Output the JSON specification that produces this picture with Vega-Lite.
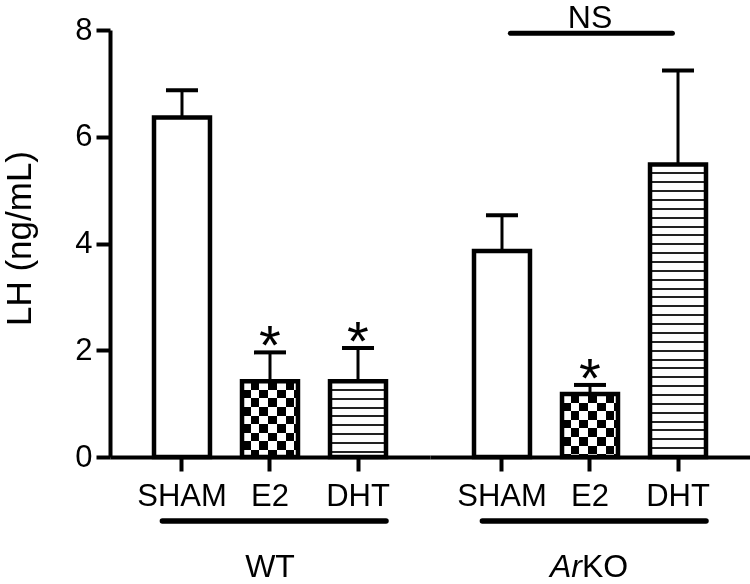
{
  "$schema": "https://vega.github.io/schema/vega-lite/v6.json",
  "autosize": {"type": "pad"},
  "padding": {"left": 2, "top": 2, "right": 2, "bottom": 0},
  "spacing": 0,
  "bounds": "flush",
  "background": "white",
  "config": {
    "view": {"stroke": null},
    "font": "Liberation Sans",
    "axis": {"labelFont": "Liberation Sans", "titleFont": "Liberation Sans", "domainColor": "black", "tickColor": "black", "labelColor": "black", "titleColor": "black", "grid": false},
    "text": {"font": "Liberation Sans", "color": "black"},
    "tick": {"opacity": 1}
  },
  "resolve": {"scale": {"x": "independent", "y": "independent"}},
  "datasets": {
    "bars": [
      {"group": "WT", "treatment": "SHAM", "value": 6.36, "err": 6.87, "sig": ""},
      {"group": "WT", "treatment": "E2", "value": 1.42, "err": 1.96, "sig": "*"},
      {"group": "WT", "treatment": "DHT", "value": 1.42, "err": 2.04, "sig": "*"},
      {"group": "ArKO", "treatment": "SHAM", "value": 3.86, "err": 4.53, "sig": ""},
      {"group": "ArKO", "treatment": "E2", "value": 1.18, "err": 1.35, "sig": "*"},
      {"group": "ArKO", "treatment": "DHT", "value": 5.48, "err": 7.24, "sig": ""}
    ]
  },
  "hconcat": [
    {
      "width": 320,
      "height": 427,
      "encoding": {
        "x": {"field": "treatment", "type": "nominal", "scale": {"domain": ["SHAM", "E2", "DHT"], "paddingInner": 0.364, "paddingOuter": 0.5},
          "axis": {"title": null, "labelFontSize": 31, "labelAngle": 0, "labelBaseline": "alphabetic", "labelPadding": 34, "tickSize": 14, "tickWidth": 4, "domainWidth": 4}},
        "y": {"field": "value", "type": "quantitative", "scale": {"domain": [0, 8], "nice": false},
          "axis": {"title": "LH (ng/mL)", "values": [0, 2, 4, 6, 8], "labelFontSize": 31, "labelPadding": 4, "tickSize": 14, "tickWidth": 4, "domainWidth": 4, "titleFontSize": 35, "titleFontWeight": "normal", "titleX": -80, "titleY": 208, "titleBaseline": "alphabetic"}}
      },
      "layer": [
        {"data": {"name": "bars"}, "transform": [{"filter": "datum.group === 'WT' && datum.treatment === 'E2'"}],
          "mark": {"type": "bar", "strokeWidth": 0, "fill": {"gradient": "linear", "x1": 0, "y1": 0, "x2": 1, "y2": 0, "stops": [
            {"offset": 0, "color": "black"}, {"offset": 0.155, "color": "black"}, {"offset": 0.155, "color": "white"}, {"offset": 0.311, "color": "white"}, {"offset": 0.311, "color": "black"}, {"offset": 0.466, "color": "black"}, {"offset": 0.466, "color": "white"}, {"offset": 0.622, "color": "white"}, {"offset": 0.622, "color": "black"}, {"offset": 0.777, "color": "black"}, {"offset": 0.777, "color": "white"}, {"offset": 0.932, "color": "white"}, {"offset": 0.932, "color": "black"}, {"offset": 1, "color": "black"}]}}},
        {"data": {"name": "bars"}, "transform": [{"filter": "datum.group === 'WT' && datum.treatment === 'E2'"}],
          "mark": {"type": "bar", "strokeWidth": 0, "blend": "difference", "fill": {"gradient": "linear", "x1": 0, "y1": 0, "x2": 0, "y2": 1, "stops": [
            {"offset": 0, "color": "white"}, {"offset": 0.1135, "color": "white"}, {"offset": 0.1135, "color": "black"}, {"offset": 0.227, "color": "black"}, {"offset": 0.227, "color": "white"}, {"offset": 0.34, "color": "white"}, {"offset": 0.34, "color": "black"}, {"offset": 0.454, "color": "black"}, {"offset": 0.454, "color": "white"}, {"offset": 0.567, "color": "white"}, {"offset": 0.567, "color": "black"}, {"offset": 0.681, "color": "black"}, {"offset": 0.681, "color": "white"}, {"offset": 0.794, "color": "white"}, {"offset": 0.794, "color": "black"}, {"offset": 0.908, "color": "black"}, {"offset": 0.908, "color": "white"}, {"offset": 1, "color": "white"}]}}},
        {"data": {"name": "bars"}, "transform": [{"filter": "datum.group === 'WT' && datum.treatment === 'DHT'"}],
          "mark": {"type": "bar", "strokeWidth": 0, "fill": {"gradient": "linear", "x1": 0, "y1": 0, "x2": 0, "y2": 1, "stops": [
            {"offset": 0, "color": "white"},
            {"offset": 0.103, "color": "white"}, {"offset": 0.103, "color": "#222"}, {"offset": 0.129, "color": "#222"}, {"offset": 0.129, "color": "white"},
            {"offset": 0.219, "color": "white"}, {"offset": 0.219, "color": "#222"}, {"offset": 0.245, "color": "#222"}, {"offset": 0.245, "color": "white"},
            {"offset": 0.335, "color": "white"}, {"offset": 0.335, "color": "#222"}, {"offset": 0.361, "color": "#222"}, {"offset": 0.361, "color": "white"},
            {"offset": 0.451, "color": "white"}, {"offset": 0.451, "color": "#222"}, {"offset": 0.478, "color": "#222"}, {"offset": 0.478, "color": "white"},
            {"offset": 0.567, "color": "white"}, {"offset": 0.567, "color": "#222"}, {"offset": 0.594, "color": "#222"}, {"offset": 0.594, "color": "white"},
            {"offset": 0.683, "color": "white"}, {"offset": 0.683, "color": "#222"}, {"offset": 0.71, "color": "#222"}, {"offset": 0.71, "color": "white"},
            {"offset": 0.799, "color": "white"}, {"offset": 0.799, "color": "#222"}, {"offset": 0.826, "color": "#222"}, {"offset": 0.826, "color": "white"},
            {"offset": 0.916, "color": "white"}, {"offset": 0.916, "color": "#222"}, {"offset": 0.942, "color": "#222"}, {"offset": 0.942, "color": "white"},
            {"offset": 1, "color": "white"}]}}},
        {"data": {"name": "bars"}, "transform": [{"filter": "datum.group === 'WT'"}],
          "mark": {"type": "bar", "fill": "white", "fillOpacity": 0, "stroke": "black", "strokeWidth": 4.5}},
        {"data": {"name": "bars"}, "transform": [{"filter": "datum.group === 'WT'"}],
          "mark": {"type": "rule", "color": "black", "strokeWidth": 3}, "encoding": {"y2": {"field": "err"}}},
        {"data": {"name": "bars"}, "transform": [{"filter": "datum.group === 'WT'"}],
          "mark": {"type": "tick", "color": "black", "opacity": 1, "size": 32, "thickness": 4}, "encoding": {"y": {"field": "err", "type": "quantitative"}}},
        {"data": {"name": "bars"}, "transform": [{"filter": "datum.group === 'WT' && datum.sig === '*'"}],
          "mark": {"type": "text", "fontSize": 56, "baseline": "alphabetic", "dy": 12},
          "encoding": {"y": {"field": "err", "type": "quantitative"}, "text": {"field": "sig"}}},
        {"data": {"name": "bars"}, "transform": [{"filter": "datum.group === 'WT' && datum.treatment === 'E2'"}],
          "mark": {"type": "rule", "color": "black", "strokeWidth": 5.5, "strokeCap": "round"},
          "encoding": {"x": {"datum": "SHAM", "bandPosition": 0.15}, "x2": {"datum": "DHT", "bandPosition": 1}, "y": {"datum": -1.2}}},
        {"data": {"name": "bars"}, "transform": [{"filter": "datum.group === 'WT' && datum.treatment === 'E2'"}],
          "mark": {"type": "text", "fontSize": 32, "baseline": "alphabetic", "align": "center"},
          "encoding": {"y": {"datum": -2.25}, "text": {"field": "group"}}}
      ]
    },
    {
      "width": 320,
      "height": 427,
      "encoding": {
        "x": {"field": "treatment", "type": "nominal", "scale": {"domain": ["SHAM", "E2", "DHT"], "paddingInner": 0.364, "paddingOuter": 0.5},
          "axis": {"title": null, "labelFontSize": 31, "labelAngle": 0, "labelBaseline": "alphabetic", "labelPadding": 34, "tickSize": 14, "tickWidth": 4, "domainWidth": 4}},
        "y": {"field": "value", "type": "quantitative", "scale": {"domain": [0, 8], "nice": false}, "axis": null}
      },
      "layer": [
        {"data": {"name": "bars"}, "transform": [{"filter": "datum.group === 'ArKO' && datum.treatment === 'E2'"}],
          "mark": {"type": "bar", "strokeWidth": 0, "fill": {"gradient": "linear", "x1": 0, "y1": 0, "x2": 1, "y2": 0, "stops": [
            {"offset": 0, "color": "black"}, {"offset": 0.155, "color": "black"}, {"offset": 0.155, "color": "white"}, {"offset": 0.311, "color": "white"}, {"offset": 0.311, "color": "black"}, {"offset": 0.466, "color": "black"}, {"offset": 0.466, "color": "white"}, {"offset": 0.622, "color": "white"}, {"offset": 0.622, "color": "black"}, {"offset": 0.777, "color": "black"}, {"offset": 0.777, "color": "white"}, {"offset": 0.932, "color": "white"}, {"offset": 0.932, "color": "black"}, {"offset": 1, "color": "black"}]}}},
        {"data": {"name": "bars"}, "transform": [{"filter": "datum.group === 'ArKO' && datum.treatment === 'E2'"}],
          "mark": {"type": "bar", "strokeWidth": 0, "blend": "difference", "fill": {"gradient": "linear", "x1": 0, "y1": 0, "x2": 0, "y2": 1, "stops": [
            {"offset": 0, "color": "white"}, {"offset": 0.1365, "color": "white"}, {"offset": 0.1365, "color": "black"}, {"offset": 0.273, "color": "black"}, {"offset": 0.273, "color": "white"}, {"offset": 0.41, "color": "white"}, {"offset": 0.41, "color": "black"}, {"offset": 0.546, "color": "black"}, {"offset": 0.546, "color": "white"}, {"offset": 0.683, "color": "white"}, {"offset": 0.683, "color": "black"}, {"offset": 0.819, "color": "black"}, {"offset": 0.819, "color": "white"}, {"offset": 0.956, "color": "white"}, {"offset": 0.956, "color": "black"}, {"offset": 1, "color": "black"}]}}},
        {"data": {"name": "bars"}, "transform": [{"filter": "datum.group === 'ArKO' && datum.treatment === 'DHT'"}],
          "mark": {"type": "bar", "strokeWidth": 0, "fill": {"gradient": "linear", "x1": 0, "y1": 0, "x2": 0, "y2": 1, "stops": [
            {"offset": 0, "color": "white"},
            {"offset": 0.0269, "color": "white"}, {"offset": 0.0269, "color": "#222"}, {"offset": 0.0337, "color": "#222"}, {"offset": 0.0337, "color": "white"},
            {"offset": 0.0572, "color": "white"}, {"offset": 0.0572, "color": "#222"}, {"offset": 0.064, "color": "#222"}, {"offset": 0.064, "color": "white"},
            {"offset": 0.0875, "color": "white"}, {"offset": 0.0875, "color": "#222"}, {"offset": 0.0943, "color": "#222"}, {"offset": 0.0943, "color": "white"},
            {"offset": 0.1178, "color": "white"}, {"offset": 0.1178, "color": "#222"}, {"offset": 0.1246, "color": "#222"}, {"offset": 0.1246, "color": "white"},
            {"offset": 0.1481, "color": "white"}, {"offset": 0.1481, "color": "#222"}, {"offset": 0.1549, "color": "#222"}, {"offset": 0.1549, "color": "white"},
            {"offset": 0.1784, "color": "white"}, {"offset": 0.1784, "color": "#222"}, {"offset": 0.1852, "color": "#222"}, {"offset": 0.1852, "color": "white"},
            {"offset": 0.2087, "color": "white"}, {"offset": 0.2087, "color": "#222"}, {"offset": 0.2155, "color": "#222"}, {"offset": 0.2155, "color": "white"},
            {"offset": 0.239, "color": "white"}, {"offset": 0.239, "color": "#222"}, {"offset": 0.2458, "color": "#222"}, {"offset": 0.2458, "color": "white"},
            {"offset": 0.2693, "color": "white"}, {"offset": 0.2693, "color": "#222"}, {"offset": 0.2761, "color": "#222"}, {"offset": 0.2761, "color": "white"},
            {"offset": 0.2996, "color": "white"}, {"offset": 0.2996, "color": "#222"}, {"offset": 0.3064, "color": "#222"}, {"offset": 0.3064, "color": "white"},
            {"offset": 0.3299, "color": "white"}, {"offset": 0.3299, "color": "#222"}, {"offset": 0.3367, "color": "#222"}, {"offset": 0.3367, "color": "white"},
            {"offset": 0.3602, "color": "white"}, {"offset": 0.3602, "color": "#222"}, {"offset": 0.367, "color": "#222"}, {"offset": 0.367, "color": "white"},
            {"offset": 0.3905, "color": "white"}, {"offset": 0.3905, "color": "#222"}, {"offset": 0.3973, "color": "#222"}, {"offset": 0.3973, "color": "white"},
            {"offset": 0.4208, "color": "white"}, {"offset": 0.4208, "color": "#222"}, {"offset": 0.4276, "color": "#222"}, {"offset": 0.4276, "color": "white"},
            {"offset": 0.4511, "color": "white"}, {"offset": 0.4511, "color": "#222"}, {"offset": 0.4579, "color": "#222"}, {"offset": 0.4579, "color": "white"},
            {"offset": 0.4814, "color": "white"}, {"offset": 0.4814, "color": "#222"}, {"offset": 0.4882, "color": "#222"}, {"offset": 0.4882, "color": "white"},
            {"offset": 0.5118, "color": "white"}, {"offset": 0.5118, "color": "#222"}, {"offset": 0.5186, "color": "#222"}, {"offset": 0.5186, "color": "white"},
            {"offset": 0.5421, "color": "white"}, {"offset": 0.5421, "color": "#222"}, {"offset": 0.5489, "color": "#222"}, {"offset": 0.5489, "color": "white"},
            {"offset": 0.5724, "color": "white"}, {"offset": 0.5724, "color": "#222"}, {"offset": 0.5792, "color": "#222"}, {"offset": 0.5792, "color": "white"},
            {"offset": 0.6027, "color": "white"}, {"offset": 0.6027, "color": "#222"}, {"offset": 0.6095, "color": "#222"}, {"offset": 0.6095, "color": "white"},
            {"offset": 0.633, "color": "white"}, {"offset": 0.633, "color": "#222"}, {"offset": 0.6398, "color": "#222"}, {"offset": 0.6398, "color": "white"},
            {"offset": 0.6633, "color": "white"}, {"offset": 0.6633, "color": "#222"}, {"offset": 0.6701, "color": "#222"}, {"offset": 0.6701, "color": "white"},
            {"offset": 0.6936, "color": "white"}, {"offset": 0.6936, "color": "#222"}, {"offset": 0.7004, "color": "#222"}, {"offset": 0.7004, "color": "white"},
            {"offset": 0.7239, "color": "white"}, {"offset": 0.7239, "color": "#222"}, {"offset": 0.7307, "color": "#222"}, {"offset": 0.7307, "color": "white"},
            {"offset": 0.7542, "color": "white"}, {"offset": 0.7542, "color": "#222"}, {"offset": 0.761, "color": "#222"}, {"offset": 0.761, "color": "white"},
            {"offset": 0.7845, "color": "white"}, {"offset": 0.7845, "color": "#222"}, {"offset": 0.7913, "color": "#222"}, {"offset": 0.7913, "color": "white"},
            {"offset": 0.8148, "color": "white"}, {"offset": 0.8148, "color": "#222"}, {"offset": 0.8216, "color": "#222"}, {"offset": 0.8216, "color": "white"},
            {"offset": 0.8451, "color": "white"}, {"offset": 0.8451, "color": "#222"}, {"offset": 0.8519, "color": "#222"}, {"offset": 0.8519, "color": "white"},
            {"offset": 0.8754, "color": "white"}, {"offset": 0.8754, "color": "#222"}, {"offset": 0.8822, "color": "#222"}, {"offset": 0.8822, "color": "white"},
            {"offset": 0.9057, "color": "white"}, {"offset": 0.9057, "color": "#222"}, {"offset": 0.9125, "color": "#222"}, {"offset": 0.9125, "color": "white"},
            {"offset": 0.936, "color": "white"}, {"offset": 0.936, "color": "#222"}, {"offset": 0.9428, "color": "#222"}, {"offset": 0.9428, "color": "white"},
            {"offset": 0.9663, "color": "white"}, {"offset": 0.9663, "color": "#222"}, {"offset": 0.9731, "color": "#222"}, {"offset": 0.9731, "color": "white"},
            {"offset": 1, "color": "white"}]}}},
        {"data": {"name": "bars"}, "transform": [{"filter": "datum.group === 'ArKO'"}],
          "mark": {"type": "bar", "fill": "white", "fillOpacity": 0, "stroke": "black", "strokeWidth": 4.5}},
        {"data": {"name": "bars"}, "transform": [{"filter": "datum.group === 'ArKO'"}],
          "mark": {"type": "rule", "color": "black", "strokeWidth": 3}, "encoding": {"y2": {"field": "err"}}},
        {"data": {"name": "bars"}, "transform": [{"filter": "datum.group === 'ArKO'"}],
          "mark": {"type": "tick", "color": "black", "opacity": 1, "size": 32, "thickness": 4}, "encoding": {"y": {"field": "err", "type": "quantitative"}}},
        {"data": {"name": "bars"}, "transform": [{"filter": "datum.group === 'ArKO' && datum.sig === '*'"}],
          "mark": {"type": "text", "fontSize": 56, "baseline": "alphabetic", "dy": 12},
          "encoding": {"y": {"field": "err", "type": "quantitative"}, "text": {"field": "sig"}}},
        {"data": {"name": "bars"}, "transform": [{"filter": "datum.group === 'ArKO' && datum.treatment === 'E2'"}],
          "mark": {"type": "rule", "color": "black", "strokeWidth": 5.5, "strokeCap": "round"},
          "encoding": {"x": {"datum": "SHAM", "bandPosition": 0.15}, "x2": {"datum": "DHT", "bandPosition": 1}, "y": {"datum": -1.2}}},
        {"data": {"name": "bars"}, "transform": [{"filter": "datum.group === 'ArKO' && datum.treatment === 'E2'"}],
          "mark": {"type": "text", "fontSize": 32, "baseline": "alphabetic", "align": "right", "fontStyle": "italic", "dx": -8, "text": "Ar"},
          "encoding": {"y": {"datum": -2.25}}},
        {"data": {"name": "bars"}, "transform": [{"filter": "datum.group === 'ArKO' && datum.treatment === 'E2'"}],
          "mark": {"type": "text", "fontSize": 32, "baseline": "alphabetic", "align": "left", "dx": -8, "text": "KO"},
          "encoding": {"y": {"datum": -2.25}}},
        {"data": {"name": "bars"}, "transform": [{"filter": "datum.group === 'ArKO' && datum.treatment === 'E2'"}],
          "mark": {"type": "rule", "color": "black", "strokeWidth": 5, "strokeCap": "round"},
          "encoding": {"x": {"datum": "SHAM", "bandPosition": 0.65}, "x2": {"datum": "DHT", "bandPosition": 0.4}, "y": {"datum": 7.94}}},
        {"data": {"name": "bars"}, "transform": [{"filter": "datum.group === 'ArKO' && datum.treatment === 'E2'"}],
          "mark": {"type": "text", "fontSize": 32, "baseline": "alphabetic", "align": "center", "text": "NS"},
          "encoding": {"y": {"datum": 8.03}}}
      ]
    }
  ]
}
